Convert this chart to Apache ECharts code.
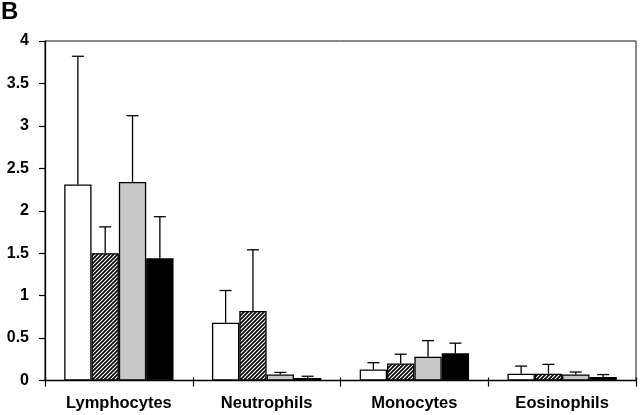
<!DOCTYPE html>
<html><head><meta charset="utf-8">
<script src="https://cdn.jsdelivr.net/npm/echarts@6/dist/echarts.min.js"></script>
<style>html,body{margin:0;padding:0;background:#fff}#c{width:640px;height:415px}</style>
</head><body><div id="c"></div>
<script>
var categories = ['Lymphocytes', 'Neutrophils', 'Monocytes', 'Eosinophils'];
var seriesA = [2.31, 0.68, 0.13, 0.08];   // white
var seriesB = [1.50, 0.82, 0.20, 0.08];   // hatched
var seriesC = [2.34, 0.07, 0.28, 0.07];   // gray
var seriesD = [1.44, 0.03, 0.32, 0.04];   // black
var errA = [3.82, 1.06, 0.21, 0.17];
var errB = [1.81, 1.54, 0.31, 0.19];
var errC = [3.12, 0.095, 0.47, 0.10];
var errD = [1.93, 0.05, 0.44, 0.07];
var yTicks = ['0', '0.5', '1', '1.5', '2', '2.5', '3', '3.5', '4'];

var tile = document.createElement('canvas');
tile.width = 4; tile.height = 4;
var g = tile.getContext('2d');
g.fillStyle = '#fff'; g.fillRect(0, 0, 4, 4);
g.strokeStyle = '#000'; g.lineWidth = 1.6;
g.beginPath();
g.moveTo(-1, 5); g.lineTo(5, -1);
g.moveTo(-3, 3); g.lineTo(3, -3);
g.moveTo(1, 7); g.lineTo(7, 1);
g.stroke();

var fills = ['#ffffff', {image: tile, repeat: 'repeat'}, '#c8c8c8', '#000000'];
var vals = [seriesA, seriesB, seriesC, seriesD];
var errs = [errA, errB, errC, errD];
var gapPct = 0.26;
var FONT = 'Arial, "Liberation Sans", sans-serif';

var series = [];
vals.forEach(function (v, i) {
  series.push({
    type: 'bar', data: v, barGap: '0%', barCategoryGap: (gapPct * 100) + '%',
    itemStyle: {color: fills[i], borderColor: '#000', borderWidth: 1.3},
    silent: true, z: 2
  });
});
errs.forEach(function (e, i) {
  var data = e.map(function (t, k) { return [k, vals[i][k], t]; });
  series.push({
    type: 'custom', z: 3, silent: true, data: data,
    renderItem: function (params, api) {
      var band = api.size([1, 0])[0];
      var bw = band * (1 - gapPct) / 4;
      var off = (i - 1.5) * bw;
      var p0 = api.coord([api.value(0), api.value(1)]);
      var p1 = api.coord([api.value(0), api.value(2)]);
      var x = p0[0] + off;
      var st = {stroke: '#000', lineWidth: 1.3};
      return {type: 'group', children: [
        {type: 'line', shape: {x1: x, y1: p0[1], x2: x, y2: p1[1]}, style: st},
        {type: 'line', shape: {x1: x - 6, y1: p1[1], x2: x + 6, y2: p1[1]}, style: st}
      ]};
    }
  });
});

var chart = echarts.init(document.getElementById('c'), null, {renderer: 'canvas'});
chart.setOption({
  animation: false,
  backgroundColor: '#fff',
  grid: {left: 45, right: 4, top: 41, bottom: 34.5, show: true, borderColor: '#111', borderWidth: 1},
  graphic: [{type: 'text', left: 1, top: 0, style: {text: 'B', font: 'bold 24px ' + FONT, fill: '#000'}}],
  xAxis: [{
    type: 'category', data: categories, boundaryGap: true,
    axisLine: {lineStyle: {color: '#000', width: 1.3}},
    axisTick: {show: true, length: 6, lineStyle: {color: '#000', width: 1.2}},
    axisLabel: {margin: 14, color: '#000', fontSize: 16.5, fontWeight: 'bold', fontFamily: FONT}
  }, {
    type: 'category', data: categories, boundaryGap: true, position: 'bottom',
    axisLine: {show: false},
    axisTick: {show: true, inside: true, length: 3, lineStyle: {color: '#000', width: 1.2}},
    axisLabel: {show: false}
  }],
  yAxis: {
    type: 'value', min: 0, max: 4, interval: 0.5,
    splitLine: {show: false},
    axisLine: {show: true, lineStyle: {color: '#000', width: 1.3}},
    axisTick: {show: true, length: 6, lineStyle: {color: '#000', width: 1.2}},
    axisLabel: {margin: 16, color: '#000', fontSize: 16, fontWeight: 'bold', fontFamily: FONT,
      formatter: function (v) { return yTicks[Math.round(v * 2)]; }}
  },
  series: series
});
</script></body></html>
